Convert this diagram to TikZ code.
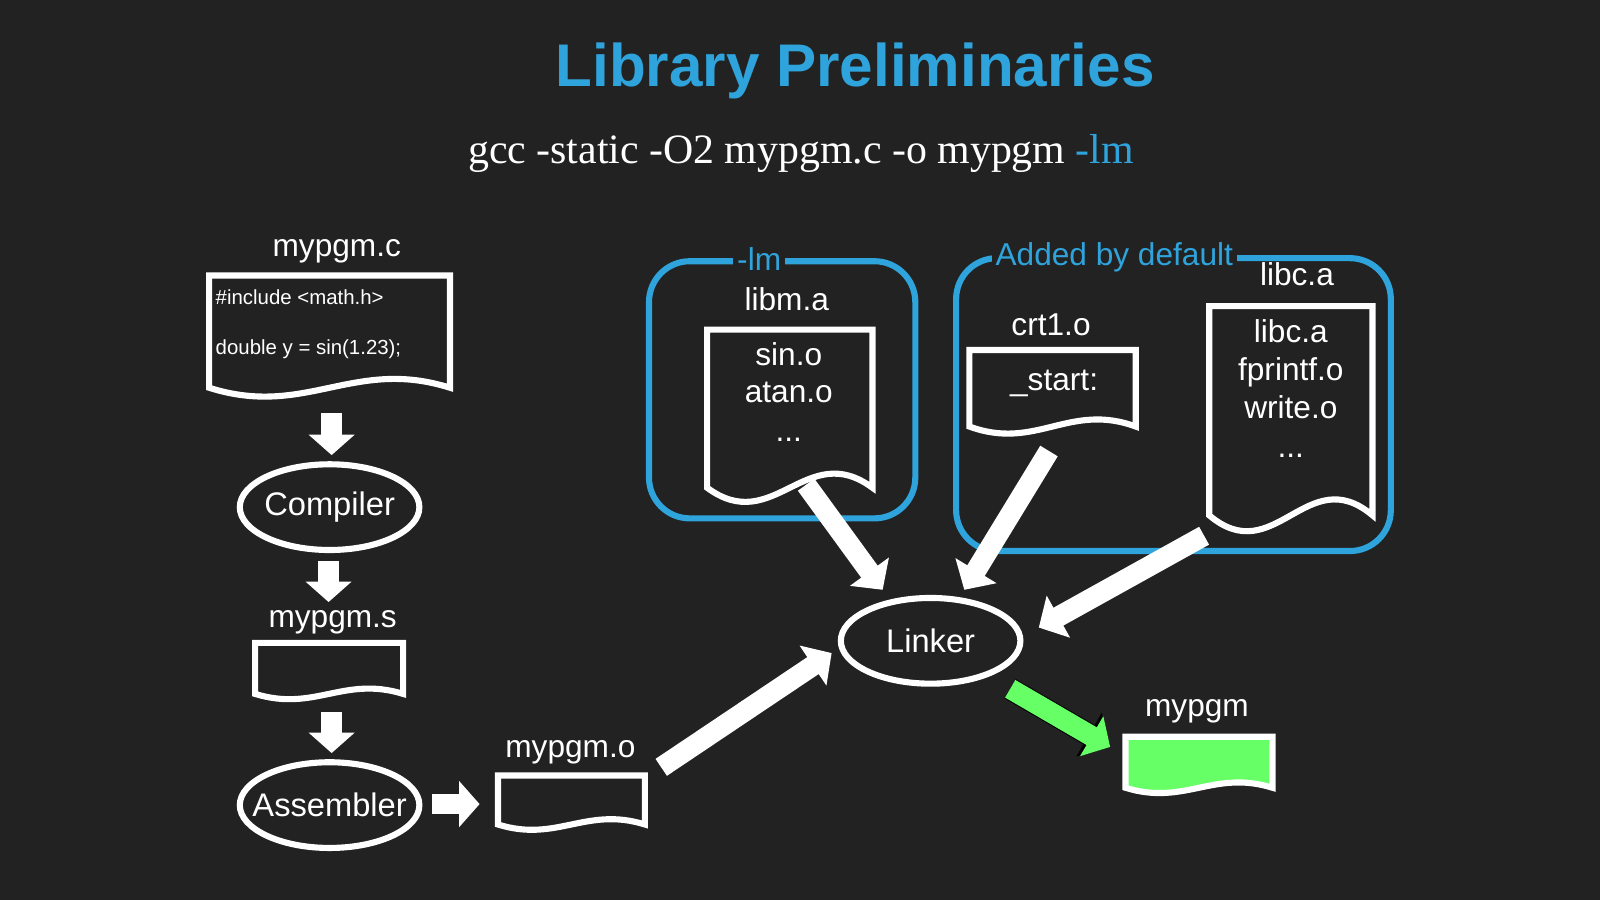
\documentclass[tikz,border=0pt]{standalone}
\usepackage{fontspec}
\setmainfont{Liberation Sans}
\newfontfamily\seriff{Liberation Serif}
\usetikzlibrary{arrows.meta,shapes.geometric}
\definecolor{bg}{HTML}{222222}
\definecolor{bl}{HTML}{2FA3DB}
\definecolor{gr}{HTML}{66FF66}
\newcommand{\docshape}[6]{% x1 y1 x2 y2 amp fill
  \draw[docl,fill=#6] (#1,#4) -- (#1,#2) -- (#3,#2) -- (#3,#4)
   .. controls ({#3-0.4*(#3-#1)},{#4-6*#5}) and ({#1+0.4*(#3-#1)},{#4+6*#5}) .. cycle;}
\begin{document}
\begin{tikzpicture}[x=0.5pt,y=-0.5pt,
  docl/.style={draw=white,line width=3pt,line join=miter},
  lbl/.style={text=white,font=\fontsize{15.5}{18}\selectfont,text height=11pt,text depth=3pt,inner sep=0pt},
  ell/.style={ellipse,draw=white,line width=3pt,inner sep=0pt,minimum width=88pt,minimum height=42pt,label={[text=white,font=\fontsize{16}{18}\selectfont]center:#1}},
  grp/.style={draw=bl,line width=3pt,rounded corners=20pt},
  grpl/.style={fill=bg,text=bl,inner sep=2pt,font=\fontsize{15.5}{18}\selectfont},
  barr/.style={draw=white,line width=10pt,-{Triangle[length=11pt,width=23pt]}},
  sarr/.style={draw=white,line width=10pt,-{Triangle[length=10pt,width=22pt]}}]
\fill[bg] (0,0) rectangle (1568,882);
\node (title) at (838,70) {\fontsize{29.5}{34}\selectfont\bfseries\color{bl}Library Preliminaries};
\node (sub) at (785,150) {\seriff\fontsize{20.5}{24}\selectfont\color{white}gcc -static -O2 mypgm.c -o mypgm \textcolor{bl}{-lm}};
% left column
\node[lbl] (lc) at (330,243) {mypgm.c};
\docshape{205}{270}{441}{380}{5}{bg}
\node[lbl,anchor=west,font=\fontsize{10}{12}\selectfont] (inc) at (211,290) {\#include <math.h>};
\node[lbl,anchor=west,font=\fontsize{10}{12}\selectfont] (dbl) at (211,339) {double y = sin(1.23);};
\coordinate (a1s) at (325,405); \coordinate (a1e) at (325,446);
\draw[sarr] (a1s) -- (a1e);
\node[ell=Compiler] (comp) at (323,497) {};
\coordinate (a2s) at (322,550); \coordinate (a2e) at (322,590);
\draw[sarr] (a2s) -- (a2e);
\node[lbl] (ls) at (326,607) {mypgm.s};
\docshape{250}{630}{395}{680}{3}{bg}
\coordinate (a3s) at (325,698); \coordinate (a3e) at (325,738);
\draw[sarr] (a3s) -- (a3e);
\node[ell=Assembler] (asm) at (323,789) {};
\coordinate (a4s) at (423,788); \coordinate (a4e) at (470,788);
\draw[sarr] (a4s) -- (a4e);
\node[lbl] (lo) at (559,734) {mypgm.o};
\docshape{488}{760}{632}{808}{3}{bg}
\node[ell=Linker] (link) at (912,628) {};
\coordinate (a5s) at (648,752); \coordinate (a5e) at (815,640);
\draw[barr] (a5s) -- (a5e);
% -lm group
\draw[grp] (636,256) rectangle (897,508);
\node[grpl] (lmlbl) at (744,254) {-lm};
\node[lbl] (libm) at (771,296) {libm.a};
\docshape{693}{323}{855}{478}{8}{bg}
\node[lbl] (sino) at (773,350) {sin.o};
\node[lbl] (atano) at (773,386) {atan.o};
\node[lbl] (dots1) at (773,425) {...};
\coordinate (a6s) at (790,475); \coordinate (a6e) at (865,578);
\draw[barr] (a6s) -- (a6e);
% default group
\draw[grp] (937,253) rectangle (1363,540);
\node[grpl] (deflbl) at (1092,252) {Added by default};
\node[lbl] (libcl) at (1271,272) {libc.a};
\node[lbl] (crt) at (1030,321) {crt1.o};
\docshape{950}{343}{1113}{418}{4}{bg}
\node[lbl] (start) at (1033,375) {\_start:};
\docshape{1185}{300}{1345}{505}{9}{bg}
\node[lbl] (libc2) at (1265,328) {libc.a};
\node[lbl] (fpr) at (1265,365) {fprintf.o};
\node[lbl] (wr) at (1265,402) {write.o};
\node[lbl] (dots2) at (1265,440) {...};
\coordinate (a7s) at (1028,442); \coordinate (a7e) at (945,578);
\draw[barr] (a7s) -- (a7e);
\coordinate (a8s) at (1180,525); \coordinate (a8e) at (1018,615);
\draw[barr] (a8s) -- (a8e);
% output
\coordinate (a9s) at (990,675); \coordinate (a9e) at (1088,732);
\draw[draw=black,line width=11pt,-{Triangle[length=12pt,width=24pt]}] (a9s) -- (a9e);
\draw[draw=gr,line width=10pt,-{Triangle[length=10.5pt,width=22pt]}] (a9s) -- (a9e);
\node[lbl] (out) at (1173,694) {mypgm};
\docshape{1103}{722}{1247}{772}{3}{gr}
\end{tikzpicture}
\end{document}
